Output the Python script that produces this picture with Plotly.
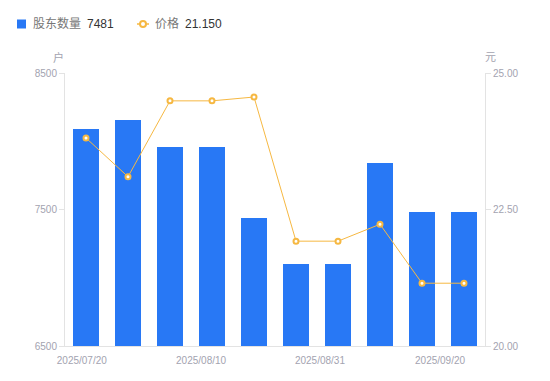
import plotly.graph_objects as go

categories = ["2025/07/20", "2025/07/27", "2025/08/03", "2025/08/10", "2025/08/17",
              "2025/08/24", "2025/08/31", "2025/09/07", "2025/09/14", "2025/09/20"]
holders = [8090, 8156, 7958, 7958, 7438, 7101, 7101, 7841, 7481, 7481]
price = [23.81, 23.10, 24.49, 24.49, 24.56, 21.92, 21.92, 22.23, 21.15, 21.15]
tick_labels = ["2025/07/20", "2025/08/10", "2025/08/31", "2025/09/20"]
tick_pos = [-0.1, 2.74, 5.57, 8.43]

x = list(range(len(categories)))
FONT = "Liberation Sans, Noto Sans CJK SC, sans-serif"
BLUE = "#2878f5"
ORANGE = "#f6b842"
TICK = "#a3a3b0"

# page body has an 8px default margin: figure is placed at (8, 8)
OFF = 8
W, H = 550 - OFF, 381 - OFF
L, T = 65 - OFF, 73 - OFF
PW, PH = 420, 273
R, B = W - L - PW, H - T - PH


def px(xp):
    return (xp - OFF - L) / PW


def py(yp):
    return 1 - (yp - OFF - T) / PH


fig = go.Figure()
fig.add_trace(go.Bar(
    x=x, y=holders, name="股东数量",
    marker=dict(color=BLUE, line=dict(width=0)), width=0.6, yaxis="y",
    customdata=categories, showlegend=False,
))
fig.add_trace(go.Scatter(
    x=x, y=price, name="价格",
    mode="lines+markers", yaxis="y2", showlegend=False,
    line=dict(color=ORANGE, width=1),
    marker=dict(color="white", size=5, line=dict(color=ORANGE, width=2)),
))

axis_common = dict(showgrid=False, zeroline=False, showline=True, linecolor="#e3e3e3",
                   linewidth=1, automargin=False,
                   tickfont=dict(size=10, color=TICK, family=FONT))

shapes = [
    dict(type="rect", xref="paper", yref="paper", x0=px(17), x1=px(26), y0=py(28.5), y1=py(19.5),
         fillcolor=BLUE, line=dict(width=0), layer="above"),
    dict(type="line", xref="paper", yref="paper", x0=px(137), x1=px(149), y0=py(24), y1=py(24),
         line=dict(color=ORANGE, width=1.5)),
    dict(type="circle", xref="paper", yref="paper", x0=px(140), x1=px(146), y0=py(27), y1=py(21),
         fillcolor="white", line=dict(color=ORANGE, width=2)),
]

leg_font = dict(size=12, family=FONT)
annotations = [
    dict(text="股东数量", xref="paper", yref="paper", x=px(31), y=py(24), showarrow=False,
         xanchor="left", yanchor="middle", font=dict(color="#777", **leg_font)),
    dict(text="%d" % holders[-1], xref="paper", yref="paper", x=px(85), y=py(24), showarrow=False,
         xanchor="left", yanchor="middle", font=dict(color="#333", **leg_font)),
    dict(text="价格", xref="paper", yref="paper", x=px(153), y=py(24), showarrow=False,
         xanchor="left", yanchor="middle", font=dict(color="#777", **leg_font)),
    dict(text="%.3f" % price[-1], xref="paper", yref="paper", x=px(183), y=py(24), showarrow=False,
         xanchor="left", yanchor="middle", font=dict(color="#333", **leg_font)),
    dict(text="户", xref="paper", yref="paper", x=px(58), y=py(57), showarrow=False,
         xanchor="center", yanchor="middle", font=dict(size=11, color=TICK, family=FONT)),
    dict(text="元", xref="paper", yref="paper", x=px(490), y=py(57), showarrow=False,
         xanchor="center", yanchor="middle", font=dict(size=11, color=TICK, family=FONT)),
]

fig.update_layout(
    width=W, height=H,
    margin=dict(l=L, r=R, t=T, b=B),
    plot_bgcolor="white", paper_bgcolor="white",
    font=dict(family=FONT),
    bargap=0,
    showlegend=False,
    xaxis=dict(range=[-0.5, 9.5], tickmode="array", tickvals=tick_pos, ticktext=tick_labels,
               ticks="outside", ticklen=5, tickcolor="rgba(0,0,0,0)", **axis_common),
    yaxis=dict(range=[6500, 8500], tickmode="array", tickvals=[6500, 7500, 8500],
               ticks="outside", ticklen=5, tickcolor="#e3e3e3", **axis_common),
    yaxis2=dict(range=[20, 25], overlaying="y", side="right", tickmode="array",
                tickvals=[20, 22.5, 25], ticktext=["20.00", "22.50", "25.00"],
                ticks="outside", ticklen=5, tickcolor="#e3e3e3", **axis_common),
    shapes=shapes,
    annotations=annotations,
)

fig.write_html("out.html")
